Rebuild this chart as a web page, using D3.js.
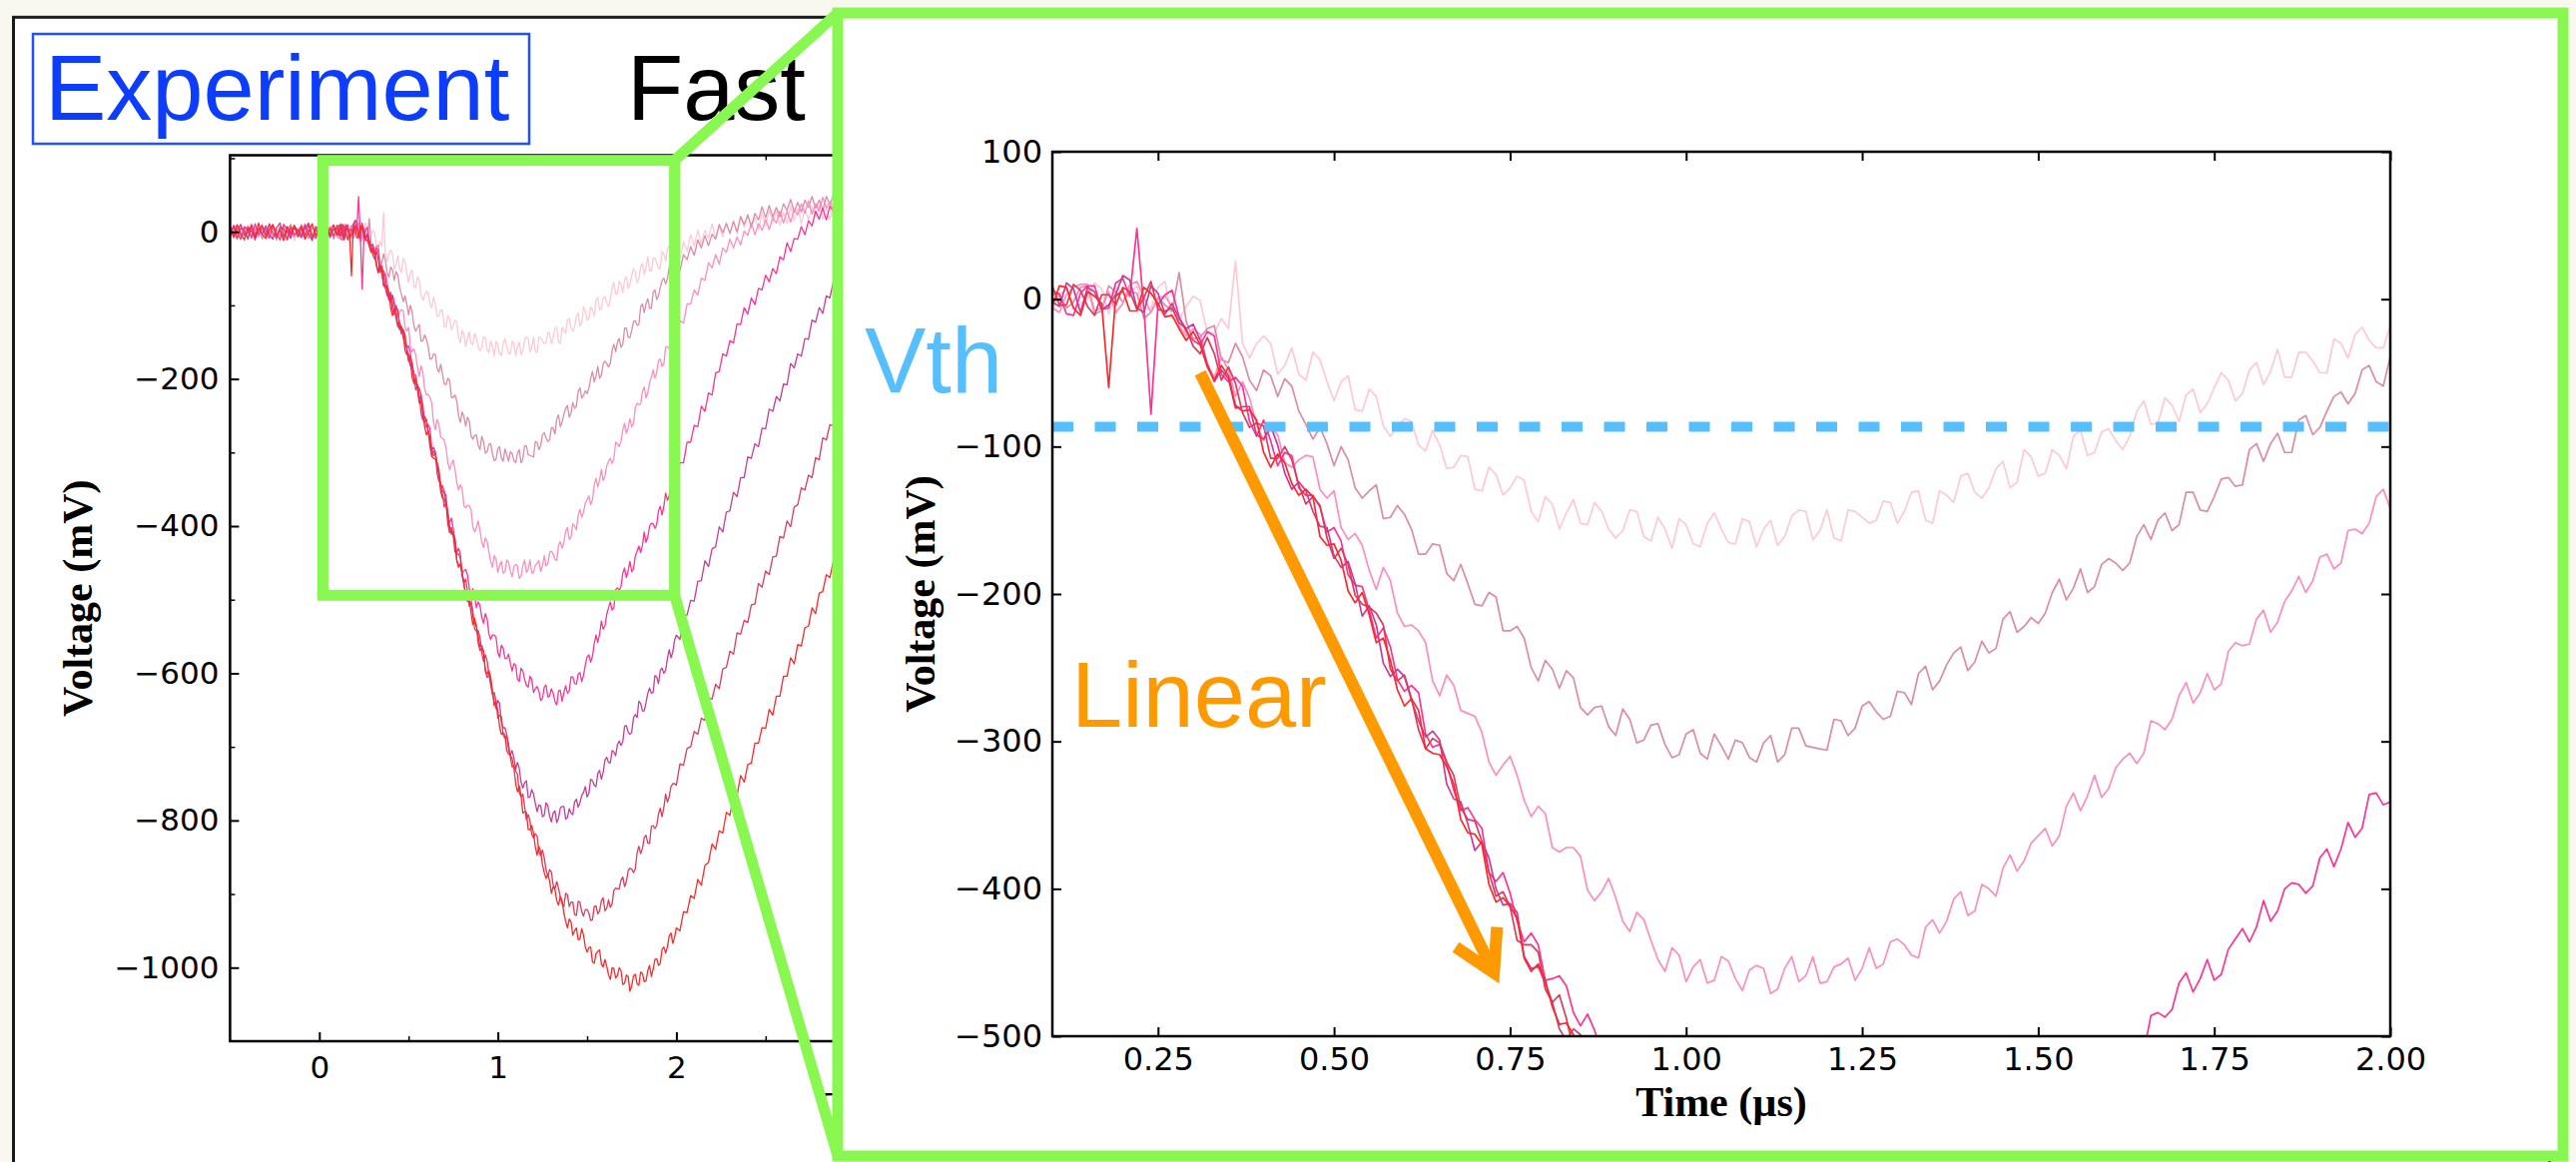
<!DOCTYPE html>
<html lang="en">
<head>
    <meta charset="utf-8">
    <title>Experiment - Fast</title>
    <script src="https://d3js.org/d3.v7.min.js"></script>
    <style type="text/css">
        body { margin: 0; background: #f8f8ef; }
        svg { display: block; }
    </style>
</head>
<body>
<script type="text/javascript">
    // Sample times of the scope traces (us): coarse before and after the zoom window,
    // finer inside it (0.10 .. 2.00 us)
    var times = d3.range(30).map(function(i) { return +(-0.5 + 0.02 * i).toFixed(2); })
        .concat(d3.range(191).map(function(i) { return +(0.10 + 0.01 * i).toFixed(2); }))
        .concat(d3.range(50).map(function(i) { return +(2.02 + 0.02 * i).toFixed(2); }));

    // Voltage (mV), lightest trace first
    var trace1 = [
        9, -7, 3, -11, 6, -2, 10, -8, 1, 7,
        -10, 4, 8, -5, -9, 11, -3, 6, -12, 2,
        6, -11, 9, 0, -7, 12, -4, -9, 5, 10,
        // zoom window
        -8, 3, 7, -7, -3, 0, 11, 7, -10, 8, 4, 4, 9, -7, -6, 8, 12, -13, -14, -5,
        2, -1, -23, -23, -13, -20, 26, -30, -40, -30, -25, -30, -51, -45, -33, -51, -55, -36, -41, -56,
        -69, -56, -52, -75, -76, -61, -66, -86, -93, -87, -81, -83, -99, -103, -89, -99, -115, -114, -106, -107,
        -129, -130, -114, -119, -133, -128, -120, -123, -144, -151, -134, -139, -156, -145, -136, -152, -153, -138, -144, -156,
        -162, -157, -143, -144, -161, -164, -148, -156, -169, -149, -153, -166, -168, -152, -145, -156, -165, -166, -149, -151,
        -168, -156, -150, -167, -161, -147, -143, -144, -163, -157, -143, -162, -164, -143, -144, -148, -152, -150, -137, -138,
        -152, -144, -131, -130, -150, -152, -130, -133, -138, -120, -118, -131, -135, -128, -115, -110, -128, -124, -102, -107,
        -120, -118, -102, -106, -115, -93, -89, -106, -104, -90, -88, -96, -102, -93, -76, -69, -85, -84, -67, -72,
        -83, -65, -61, -77, -71, -60, -50, -55, -69, -64, -48, -43, -58, -49, -34, -53, -53, -36, -36, -42,
        -50, -50, -27, -30, -40, -24, -19, -28, -33, -33, -18,
        // after
        -36, -14, -26, -4,
        -19, 2, -17, 2, -9, 11, -8, 7, -7, 13,
        -3, 15, -3, 19, 6, 23, 5, 20, 2, 26,
        8, 30, 13, 28, 9, 26, 11, 35, 15, 32,
        11, 31, 16, 35, 20, 37, 17, 33, 17, 36,
        21, 38, 18, 35, 21, 42];
    var trace2 = [
        -8, 4, 10, -6, -1, 8, -9, 3, 6, -10,
        5, -2, 9, -11, 7, -4, 3, 10, -7, 2,
        -4, 11, -9, 6, -1, -8, 12, -3, 7, -10,
        3, 4, -6, -2, 8, 9, -10, -8, 9, 5, -2, 5, 4, -13, -9, 1, -4, -8, 18, -15,
        -27, -26, -20, -18, -41, -43, -30, -39, -55, -62, -48, -52, -66, -54, -59, -76, -85, -95, -87, -98,
        -113, -100, -109, -128, -135, -130, -126, -149, -148, -140, -146, -156, -173, -173, -166, -167, -186, -191, -180, -193,
        -207, -208, -199, -202, -225, -225, -222, -230, -250, -259, -245, -251, -264, -252, -257, -277, -282, -277, -276, -290,
        -296, -278, -285, -301, -299, -289, -288, -302, -311, -309, -295, -292, -308, -312, -295, -303, -312, -299, -301, -311,
        -314, -301, -296, -314, -309, -291, -291, -303, -304, -305, -306, -285, -286, -296, -291, -276, -273, -280, -285, -283,
        -266, -267, -275, -254, -249, -265, -259, -248, -240, -236, -252, -246, -232, -240, -237, -217, -212, -226, -222, -216,
        -220, -213, -199, -190, -204, -196, -183, -199, -195, -180, -176, -179, -184, -179, -161, -153, -163, -150, -145, -157,
        -153, -131, -131, -143, -144, -134, -122, -121, -127, -126, -102, -98, -110, -98, -91, -104, -104, -82, -79, -92,
        -87, -76, -66, -63, -71, -64, -48, -45, -56, -59, -39,
        -53, -31, -38, -20,
        -32, -11, -22, -5, -19, -3, -10, 10, -1, 11,
        -2, 14, 0, 21, 10, 23, 7, 25, 16, 34,
        19, 36, 20, 33, 20, 38, 29, 44, 27, 40,
        27, 43, 33, 48, 32, 43, 29, 48, 37, 50,
        36, 50, 33, 48, 39, 53];
    var trace3 = [
        7, -4, -10, 6, 3, -8, 11, -2, -7, 5,
        -3, 10, -8, 4, -6, 9, -11, 2, 7, -5,
        10, -7, 3, -9, 6, -4, 8, -12, 4, 9,
        -6, -9, 3, 8, 10, 10, -8, -6, 5, -9, -3, 10, 12, 1, -9, 1, 2, -5, -18, -25,
        -20, -24, -44, -53, -39, -48, -66, -56, -67, -85, -96, -87, -92, -111, -114, -109, -106, -107, -129, -135,
        -130, -155, -163, -159, -167, -184, -197, -182, -191, -213, -222, -221, -225, -233, -259, -269, -255, -262, -279, -281,
        -283, -294, -314, -323, -316, -310, -323, -340, -351, -344, -349, -372, -375, -372, -372, -378, -401, -408, -402, -393,
        -406, -422, -429, -416, -421, -435, -448, -456, -440, -445, -463, -453, -448, -464, -462, -446, -449, -461, -469, -455,
        -452, -454, -471, -468, -454, -446, -463, -459, -446, -464, -463, -453, -451, -447, -462, -454, -440, -454, -451, -436,
        -434, -438, -445, -447, -426, -421, -430, -422, -407, -402, -418, -415, -397, -400, -405, -386, -377, -388, -381, -369,
        -364, -359, -371, -364, -344, -335, -347, -337, -323, -338, -332, -318, -312, -308, -315, -308, -286, -288, -292, -285,
        -269, -260, -274, -267, -254, -265, -261, -239, -233, -235, -234, -217, -211, -226, -219, -205, -198, -188, -199, -191,
        -175, -173, -183, -179, -157, -156, -159, -152, -134, -129, -142,
        -121, -124, -98, -98,
        -79, -86, -63, -66, -42, -49, -31, -44, -22, -28,
        -10, -22, -7, -18, 1, -5, 12, -4, 11, 2,
        17, 3, 19, 12, 28, 12, 28, 13, 30, 23,
        38, 25, 42, 24, 38, 28, 47, 32, 41, 31,
        46, 31, 48, 36, 52, 38];
    var trace4 = [
        -5, 9, -2, -10, 7, 3, -8, 11, -4, 6,
        2, -9, 8, -3, -11, 10, 4, -6, 9, -1,
        -8, 5, 12, -4, -9, 7, -2, 10, -7, 3,
        6, 3, -10, -11, 4, 9, 9, -7, -6, 11, 14, 2, 48, -6, -78, -4, 3, 6, -12, -22,
        -28, -31, -22, -25, -51, -56, -53, -59, -83, -93, -82, -96, -113, -104, -106, -128, -133, -133, -141, -158,
        -155, -164, -187, -194, -195, -211, -230, -223, -236, -258, -266, -262, -267, -295, -304, -302, -315, -333, -347, -345,
        -353, -359, -389, -395, -389, -403, -422, -436, -430, -438, -462, -461, -459, -466, -484, -493, -485, -496, -511, -503,
        -508, -524, -532, -519, -526, -547, -554, -548, -548, -551, -572, -578, -562, -566, -580, -580, -574, -586, -597, -587,
        -589, -608, -611, -593, -597, -608, -616, -619, -604, -608, -626, -621, -618, -624, -637, -634, -619, -616, -632, -631,
        -621, -627, -638, -643, -624, -623, -638, -626, -617, -627, -624, -605, -605, -614, -615, -601, -599, -611, -603, -589,
        -578, -575, -585, -577, -560, -548, -558, -547, -529, -540, -536, -520, -511, -503, -514, -511, -486, -484, -487, -482,
        -464, -457, -470, -461, -448, -462, -458, -441, -434, -427, -436, -426, -408, -422, -415, -400, -396, -397, -403, -398,
        -379, -373, -385, -373, -355, -365, -359, -336, -335, -343, -341,
        -314, -314, -286, -286,
        -263, -265, -237, -244, -219, -222, -192, -190, -166, -169,
        -148, -151, -125, -126, -103, -112, -90, -99, -77, -79,
        -59, -68, -50, -57, -34, -38, -15, -27, -9, -10,
        7, -4, 15, 8, 28, 17, 32, 16, 35, 28,
        42, 28, 39, 28, 47, 33];
    var trace5 = [
        6, -8, 2, 10, -5, -1, 9, -11, 4, -3,
        8, -4, -10, 5, 12, -7, 1, -9, 6, 3,
        -7, 9, -3, -12, 7, 2, -6, 10, -8, 4,
        -2, -5, 11, 7, -9, 8, 5, -7, -4, 3, 16, 13, -6, -9, 9, 4, -10, -3, -13, -20,
        -17, -28, -44, -56, -48, -54, -74, -73, -73, -92, -95, -86, -99, -118, -129, -124, -130, -144, -154, -155,
        -174, -182, -178, -193, -215, -208, -221, -247, -256, -251, -256, -272, -286, -297, -293, -299, -329, -339, -341, -356,
        -374, -368, -379, -400, -411, -410, -416, -446, -454, -453, -464, -477, -495, -503, -495, -499, -523, -532, -535, -549,
        -564, -562, -570, -597, -606, -601, -609, -626, -638, -648, -637, -641, -667, -674, -674, -683, -704, -711, -705, -715,
        -730, -721, -729, -748, -756, -749, -746, -769, -768, -758, -764, -777, -788, -779, -780, -795, -793, -776, -780, -794,
        -802, -790, -787, -803, -797, -783, -781, -781, -798, -796, -784, -790, -792, -775, -771, -782, -776, -766, -762, -754,
        -768, -763, -744, -746, -752, -754, -736, -732, -744, -735, -718, -714, -721, -722, -705, -707, -712, -697, -692, -698,
        -693, -672, -671, -680, -683, -680, -660, -656, -660, -638, -641, -651, -651, -640, -627, -620, -627, -626, -603, -605,
        -614, -596, -593, -600, -596, -580, -568, -579, -571, -555, -548,
        -554, -522, -521, -501,
        -502, -475, -474, -447, -455, -431, -428, -401, -408, -381,
        -379, -354, -360, -334, -334, -306, -308, -288, -292, -267,
        -268, -241, -244, -224, -230, -207, -208, -179, -185, -166,
        -169, -145, -146, -120, -123, -103, -111, -87, -90, -67,
        -69, -48, -55, -37, -43, -22];
    var trace6 = [
        -3, 7, -9, 5, 2, -10, 8, -5, 3, 9,
        -6, 11, -2, -8, 6, 4, -11, 7, -4, 1,
        8, -5, 10, -9, 3, -2, 7, -10, 5, -6,
        9, -4, -4, 10, 6, -5, -11, 3, 3, -4, 8, 5, -7, 1, 12, -7, -8, -6, -16, -20,
        -32, -37, -26, -37, -55, -46, -57, -77, -87, -84, -86, -108, -108, -100, -109, -126, -139, -134, -140, -162,
        -176, -169, -180, -201, -207, -209, -213, -221, -251, -259, -255, -271, -292, -305, -298, -301, -314, -323, -345, -353,
        -354, -368, -389, -405, -402, -412, -435, -438, -438, -443, -468, -477, -472, -488, -509, -504, -515, -540, -543, -542,
        -551, -572, -584, -575, -583, -601, -616, -629, -626, -638, -661, -657, -659, -684, -688, -685, -696, -714, -727, -726,
        -733, -737, -762, -768, -764, -781, -799, -792, -800, -819, -824, -818, -821, -843, -848, -840, -851, -867, -876, -867,
        -870, -888, -893, -883, -892, -904, -913, -917, -899, -901, -917, -911, -911, -928, -929, -910, -911, -924, -930, -921,
        -921, -926, -936, -935, -917, -916, -927, -923, -909, -905, -923, -919, -908, -918, -914, -895, -892, -893, -893, -881,
        -877, -890, -883, -868, -865, -866, -871, -866, -844, -835, -845, -838, -823, -820, -831, -831, -808, -807, -811, -807,
        -791, -783, -795, -782, -764, -775, -768, -754, -750, -750, -752,
        -723, -725, -702, -700,
        -679, -683, -661, -664, -634, -635, -615, -621, -594, -592,
        -570, -574, -545, -547, -528, -531, -507, -506, -478, -483,
        -461, -466, -442, -441, -414, -416, -393, -401, -374, -371,
        -348, -351, -331, -334, -307, -310, -280, -283, -262, -264,
        -242, -244, -215, -218, -197, -201];
    var trace7 = [
        4, -6, 9, -3, -11, 6, 1, -8, 12, -4,
        -9, 3, 10, -5, 2, -12, 7, -2, 8, -7,
        5, -10, 0, 11, -6, 3, -9, 6, -3, 9,
        -5, 9, 8, -6, -11, 5, 2, -3, -60, 2, 6, -8, -8, 8, 4, -3, -12, -11, -20, -28,
        -22, -31, -46, -55, -45, -52, -72, -76, -75, -82, -104, -114, -105, -111, -125, -133, -129, -134, -161, -167,
        -166, -177, -198, -206, -199, -214, -233, -230, -245, -265, -276, -271, -279, -305, -308, -309, -317, -329, -353, -362,
        -363, -370, -397, -409, -406, -412, -420, -447, -456, -451, -462, -480, -492, -491, -499, -518, -534, -525, -537, -559,
        -569, -566, -571, -596, -601, -596, -605, -625, -644, -639, -651, -673, -683, -681, -684, -705, -710, -711, -716, -728,
        -750, -761, -753, -766, -790, -788, -789, -812, -813, -807, -817, -836, -847, -835, -843, -860, -871, -879, -873, -882,
        -899, -890, -894, -909, -915, -903, -910, -926, -937, -946, -934, -938, -956, -950, -946, -962, -961, -947, -956, -972,
        -979, -973, -972, -992, -994, -981, -978, -976, -995, -999, -989, -998, -1010, -1016, -1000, -1001, -1014, -1011, -1000, -1004,
        -1023, -1021, -1010, -1012, -1032, -1025, -1011, -1009, -1022, -1024, -1006, -1008, -1019, -1018, -1004, -997, -1012, -1002, -989, -988,
        -997, -994, -975, -972, -980, -972, -957, -953, -967, -959, -946,
        -950, -924, -925, -902,
        -906, -880, -888, -861, -857, -832, -839, -814, -817, -789,
        -793, -767, -766, -739, -748, -724, -722, -695, -695, -674,
        -675, -649, -657, -631, -631, -604, -604, -579, -587, -561,
        -563, -538, -536, -511, -519, -491, -489, -466, -470, -447,
        -446, -421, -426, -400, -397, -374];
    var traces = [trace1, trace2, trace3, trace4, trace5, trace6, trace7];
    var traceColors = ["#ffc9d4", "#dc8ca5", "#ff8cbe", "#ff3296", "#c83c96", "#dc3c5a", "#ff2828"];

    // tick values (only the ticks that are not hidden by the zoom panel)
    var fullTimeTicks = [0, 1, 2];
    var fullTimeMinor = [0.5, 1.5, 2.5];
    var fullVoltTicks = [0, -200, -400, -600, -800, -1000];
    var fullVoltMinor = [100, -100, -300, -500, -700, -900];
    var zoomTimeTicks = [0.25, 0.5, 0.75, 1.0, 1.25, 1.5, 1.75, 2.0];
    var zoomVoltTicks = [100, 0, -100, -200, -300, -400, -500];

    // annotations (data coordinates)
    var vth = -86.5;
    var zoomBox = { t: [0.02, 1.99], v: [-494, 97] };
    var linearArrow = { from: [0.31, -50], to: [0.727, -457] };

    var w = 2580, h = 1164;
    var green = "#88f850";
    var minus = function(d) { return d < 0 ? "\u2212" + Math.abs(d) : String(d); };

    var svg = d3.select("body").append("svg")
        .attr("width", w)
        .attr("height", h);

    svg.append("rect").attr("width", w).attr("height", h).attr("fill", "#f8f8ef");

    // slide panel
    svg.append("rect")
        .attr("x", 13.5).attr("y", 17.3)
        .attr("width", 2540).attr("height", 1300)
        .attr("fill", "#fff").attr("stroke", "#1b1b1b").attr("stroke-width", 3);

    svg.append("rect")
        .attr("x", 33).attr("y", 34).attr("width", 497).attr("height", 110)
        .attr("fill", "none").attr("stroke", "#2050ff").attr("stroke-width", 2.5);
    svg.append("text")
        .attr("x", 45).attr("y", 120)
        .attr("font-family", "Liberation Sans, Arial, sans-serif").attr("font-size", 92)
        .attr("fill", "#0d3dfc")
        .text("Experiment");
    svg.append("text")
        .attr("x", 628).attr("y", 120)
        .attr("font-family", "Liberation Sans, Arial, sans-serif").attr("font-size", 92)
        .attr("fill", "#000")
        .text("Fast");

    function drawPanel(p) {
        var x = d3.scaleLinear().domain(p.xDomain).range([p.left, p.right]);
        var y = d3.scaleLinear().domain(p.yDomain).range([p.bottom, p.top]);
        var g = svg.append("g");

        g.append("clipPath").attr("id", p.id)
            .append("rect")
            .attr("x", p.left).attr("y", p.top)
            .attr("width", p.right - p.left).attr("height", p.bottom - p.top);

        var line = d3.line()
            .x(function(d, i) { return x(times[i]); })
            .y(function(d) { return y(d); });

        var plot = g.append("g").attr("clip-path", "url(#" + p.id + ")");
        traces.forEach(function(vals, k) {
            plot.append("path")
                .attr("d", line(vals))
                .attr("fill", "none")
                .attr("stroke", traceColors[k])
                .attr("stroke-width", p.lw)
                .attr("stroke-linejoin", "round");
        });

        function styleAxis(sel, width) {
            sel.select(".domain").remove();
            sel.attr("font-family", "DejaVu Sans, sans-serif").attr("font-size", p.fs);
            sel.selectAll(".tick line").attr("stroke", "#000").attr("stroke-width", width);
            sel.selectAll(".tick text").attr("fill", "#000");
        }

        // major ticks, pointing inwards on all four sides
        g.append("g").attr("transform", "translate(0," + p.bottom + ")")
            .call(d3.axisBottom(x).tickValues(p.xTicks).tickFormat(p.xFmt)
                .tickSizeInner(-9).tickSizeOuter(0).tickPadding(p.xPad))
            .call(styleAxis, 2);
        g.append("g").attr("transform", "translate(0," + p.top + ")")
            .call(d3.axisTop(x).tickValues(p.xTicks).tickFormat("")
                .tickSizeInner(-9).tickSizeOuter(0))
            .call(styleAxis, 2);
        g.append("g").attr("transform", "translate(" + p.left + ",0)")
            .call(d3.axisLeft(y).tickValues(p.yTicks).tickFormat(minus)
                .tickSizeInner(-9).tickSizeOuter(0).tickPadding(p.yPad))
            .call(styleAxis, 2);
        g.append("g").attr("transform", "translate(" + p.right + ",0)")
            .call(d3.axisRight(y).tickValues(p.yTicks).tickFormat("")
                .tickSizeInner(-9).tickSizeOuter(0))
            .call(styleAxis, 2);

        if (p.xMinor) {
            g.append("g").attr("transform", "translate(0," + p.bottom + ")")
                .call(d3.axisBottom(x).tickValues(p.xMinor).tickFormat("").tickSizeInner(-5).tickSizeOuter(0))
                .call(styleAxis, 1.5);
            g.append("g").attr("transform", "translate(0," + p.top + ")")
                .call(d3.axisTop(x).tickValues(p.xMinor).tickFormat("").tickSizeInner(-5).tickSizeOuter(0))
                .call(styleAxis, 1.5);
            g.append("g").attr("transform", "translate(" + p.left + ",0)")
                .call(d3.axisLeft(y).tickValues(p.yMinor).tickFormat("").tickSizeInner(-5).tickSizeOuter(0))
                .call(styleAxis, 1.5);
        }

        g.append("rect")
            .attr("x", p.left).attr("y", p.top)
            .attr("width", p.right - p.left).attr("height", p.bottom - p.top)
            .attr("fill", "none").attr("stroke", "#000").attr("stroke-width", 2.5);

        g.append("text")
            .attr("transform", "translate(" + p.yLabelX + "," + ((p.top + p.bottom) / 2) + ") rotate(-90)")
            .attr("text-anchor", "middle")
            .attr("font-family", "Liberation Serif, Times New Roman, serif")
            .attr("font-weight", "bold").attr("font-size", 42)
            .text("Voltage (mV)");
        g.append("text")
            .attr("x", (p.left + p.right) / 2).attr("y", p.bottom + p.xLabelGap)
            .attr("text-anchor", "middle")
            .attr("font-family", "Liberation Serif, Times New Roman, serif")
            .attr("font-weight", "bold").attr("font-size", 42)
            .text("Time (\u00b5s)");

        return { x: x, y: y, g: g, plot: plot };
    }

    // full trace chart
    var full = drawPanel({
        id: "clipFull",
        left: 230.4, right: 1589.3, top: 155.5, bottom: 1043,
        xDomain: [-0.5, 7.1], yDomain: [-1100, 104],
        xTicks: fullTimeTicks, xMinor: fullTimeMinor,
        yTicks: fullVoltTicks, yMinor: fullVoltMinor,
        xFmt: function(d) { return String(d); },
        fs: 31, xPad: 14.6, yPad: 11, lw: 1.3,
        yLabelX: 92, xLabelGap: 80
    });

    // zoom box and connectors
    var bx0 = full.x(zoomBox.t[0]), bx1 = full.x(zoomBox.t[1]);
    var by0 = full.y(zoomBox.v[1]), by1 = full.y(zoomBox.v[0]);
    svg.append("rect")
        .attr("x", bx0).attr("y", by0).attr("width", bx1 - bx0).attr("height", by1 - by0)
        .attr("fill", "none").attr("stroke", green).attr("stroke-width", 11);

    var panel = { x: 839, y: 13, w: 1728, h: 1145 };
    svg.append("line")
        .attr("x1", bx1).attr("y1", by0).attr("x2", panel.x).attr("y2", panel.y)
        .attr("stroke", green).attr("stroke-width", 11);
    svg.append("line")
        .attr("x1", bx1).attr("y1", by1).attr("x2", panel.x).attr("y2", panel.y + panel.h)
        .attr("stroke", green).attr("stroke-width", 11);

    svg.append("rect")
        .attr("x", panel.x).attr("y", panel.y).attr("width", panel.w).attr("height", panel.h)
        .attr("fill", "#fff").attr("stroke", green).attr("stroke-width", 11);

    // zoomed chart
    var zoom = drawPanel({
        id: "clipZoom",
        left: 1054, right: 2394, top: 152, bottom: 1038,
        xDomain: [0.1, 2.0], yDomain: [-500, 100],
        xTicks: zoomTimeTicks, yTicks: zoomVoltTicks,
        xFmt: d3.format(".2f"),
        fs: 32, xPad: 11, yPad: 10, lw: 1.7,
        yLabelX: 936, xLabelGap: 80
    });

    // threshold line
    zoom.plot.append("line")
        .attr("x1", zoom.x(0.1)).attr("x2", zoom.x(2.0))
        .attr("y1", zoom.y(vth)).attr("y2", zoom.y(vth))
        .attr("stroke", "#55bfff").attr("stroke-width", 10)
        .attr("stroke-dasharray", "21 21.5");
    svg.append("text")
        .attr("x", 866).attr("y", 392.7)
        .attr("font-family", "Liberation Sans, Arial, sans-serif").attr("font-size", 92)
        .attr("fill", "#55bfff")
        .text("Vth");

    // linear slope arrow
    var ax0 = zoom.x(linearArrow.from[0]), ay0 = zoom.y(linearArrow.from[1]);
    var ax1 = zoom.x(linearArrow.to[0]), ay1 = zoom.y(linearArrow.to[1]);
    var back = Math.atan2(ay0 - ay1, ax0 - ax1);
    var armLen = 46, spread = Math.PI / 6;
    svg.append("line")
        .attr("x1", ax0).attr("y1", ay0)
        .attr("x2", ax1 + 4 * Math.cos(back)).attr("y2", ay1 + 4 * Math.sin(back))
        .attr("stroke", "#ff9900").attr("stroke-width", 12);
    svg.append("path")
        .attr("d", d3.line()([
            [ax1 + armLen * Math.cos(back - spread), ay1 + armLen * Math.sin(back - spread)],
            [ax1, ay1],
            [ax1 + armLen * Math.cos(back + spread), ay1 + armLen * Math.sin(back + spread)]
        ]))
        .attr("fill", "none").attr("stroke", "#ff9900").attr("stroke-width", 12)
        .attr("stroke-linejoin", "miter");
    svg.append("text")
        .attr("x", 1073).attr("y", 728)
        .attr("font-family", "Liberation Sans, Arial, sans-serif").attr("font-size", 92)
        .attr("fill", "#ff9900")
        .text("Linear");
</script>
</body>
</html>
